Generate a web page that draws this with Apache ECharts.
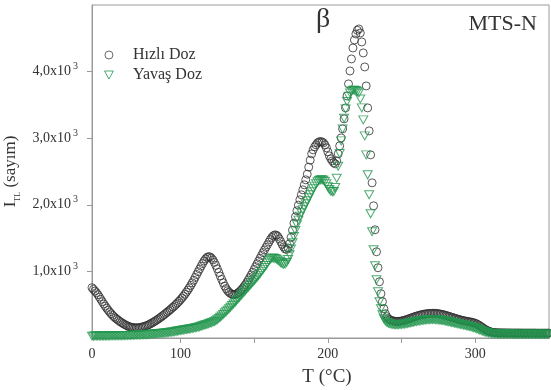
<!DOCTYPE html>
<html><head><meta charset="utf-8">
<script src="https://cdn.jsdelivr.net/npm/echarts@6/dist/echarts.min.js"></script>
<style>html,body{margin:0;padding:0;background:#fff}#c{width:551px;height:390px}</style>
</head><body><div id="c"></div>
<script>
// Temperature (°C), sampled every degree
const temperature = [
40,41,42,43,44,45,46,47,48,49,
50,51,52,53,54,55,56,57,58,59,
60,61,62,63,64,65,66,67,68,69,
70,71,72,73,74,75,76,77,78,79,
80,81,82,83,84,85,86,87,88,89,
90,91,92,93,94,95,96,97,98,99,
100,101,102,103,104,105,106,107,108,109,
110,111,112,113,114,115,116,117,118,119,
120,121,122,123,124,125,126,127,128,129,
130,131,132,133,134,135,136,137,138,139,
140,141,142,143,144,145,146,147,148,149,
150,151,152,153,154,155,156,157,158,159,
160,161,162,163,164,165,166,167,168,169,
170,171,172,173,174,175,176,177,178,179,
180,181,182,183,184,185,186,187,188,189,
190,191,192,193,194,195,196,197,198,199,
200,201,202,203,204,205,206,207,208,209,
210,211,212,213,214,215,216,217,218,219,
220,221,222,223,224,225,226,227,228,229,
230,231,232,233,234,235,236,237,238,239,
240,241,242,243,244,245,246,247,248,249,
250,251,252,253,254,255,256,257,258,259,
260,261,262,263,264,265,266,267,268,269,
270,271,272,273,274,275,276,277,278,279,
280,281,282,283,284,285,286,287,288,289,
290,291,292,293,294,295,296,297,298,299,
300,301,302,303,304,305,306,307,308,309,
310,311,312,313,314,315,316,317,318,319,
320,321,322,323,324,325,326,327,328,329,
330,331,332,333,334,335,336,337,338,339,
340,341,342,343,344,345,346,347,348,349,350];

// Hızlı Doz (counts)
const hizliDoz = [
755,730,705,680,650,615,580,545,510,478,
447,418,390,364,340,318,298,280,263,247,
232,218,205,193,182,172,165,160,156,154,
153,154,156,160,165,171,178,186,195,205,
218,230,243,257,271,286,302,318,335,352,
370,388,406,425,444,464,484,505,527,550,
574,600,628,657,688,720,754,790,828,868,
910,953,995,1037,1078,1118,1155,1187,1210,1222,
1218,1200,1172,1135,1090,1040,985,930,878,830,
780,742,710,686,668,657,652,654,662,676,
694,716,741,769,800,834,870,908,947,987,
1030,1072,1114,1156,1198,1240,1282,1322,1362,1400,
1440,1478,1510,1535,1548,1545,1525,1490,1448,1405,
1368,1338,1330,1352,1415,1510,1620,1725,1820,1910,
1995,2075,2150,2225,2300,2375,2460,2565,2670,2765,
2825,2870,2900,2930,2945,2950,2945,2930,2900,2855,
2795,2735,2690,2660,2630,2615,2660,2765,2885,3005,
3140,3290,3455,3635,3815,4010,4190,4355,4475,4565,
4620,4640,4580,4445,4280,4070,3785,3455,3110,2750,
2330,1985,1625,1295,1055,845,665,545,440,365,
320,290,275,265,258,253,250,249,250,252,
256,261,267,274,281,289,297,305,313,321,
328,335,341,347,352,357,361,364,367,369,
370,371,371,370,368,365,361,357,352,346,
340,333,326,319,312,305,298,291,284,278,
272,266,261,256,252,248,244,240,235,229,
221,211,199,185,170,154,139,125,113,103,
95,89,85,82,80,79,78,78,77,77,
77,76,76,76,76,75,75,75,75,75,
75,75,74,74,74,74,74,74,74,74,
74,74,73,73,73,73,73,73,73,73,73];

// Yavaş Doz (counts)
const yavasDoz = [
28,28,29,29,29,30,30,30,31,31,
31,32,32,33,33,34,34,35,35,36,
36,36,37,38,38,39,40,41,42,43,
44,45,46,47,48,49,50,51,53,55,
57,59,61,63,65,67,69,71,73,75,
77,80,83,86,89,92,96,100,104,108,
112,116,120,124,128,132,136,140,144,148,
153,158,163,170,177,184,191,198,205,213,
221,229,238,248,260,275,292,311,331,352,
374,396,418,440,463,487,511,535,560,585,
610,635,660,685,710,735,760,785,810,835,
860,885,912,940,970,1000,1030,1060,1090,1125,
1160,1185,1198,1200,1195,1185,1170,1150,1130,1115,
1108,1112,1135,1180,1250,1335,1430,1525,1615,1700,
1770,1830,1880,1925,1970,2015,2060,2105,2150,2195,
2240,2280,2315,2345,2365,2375,2375,2368,2350,2315,
2270,2230,2205,2195,2200,2260,2400,2580,2770,2960,
3140,3300,3440,3550,3630,3680,3710,3720,3720,3715,
3700,3680,3590,3455,3275,3035,2750,2450,2150,1865,
1595,1325,1085,875,695,545,440,350,290,255,
235,222,214,208,204,201,200,200,201,203,
205,208,211,215,219,223,228,233,238,243,
248,253,257,261,265,268,271,273,275,276,
277,277,277,276,274,272,269,266,262,258,
254,249,244,239,234,229,224,219,214,209,
204,199,194,189,184,179,174,168,162,155,
147,139,130,121,112,103,95,88,82,77,
73,70,67,65,63,62,61,60,60,60,
60,59,59,59,59,59,58,58,58,58,
58,58,58,58,58,57,57,57,57,57,
57,57,57,57,57,57,57,57,57,57,57];

const xLabelValues = [40, 100, 200, 300];
const xLabelTexts = ['0', '100', '200', '300'];
const xTickValues = [100, 150, 200, 250, 300];
const yLabelValues = [1000, 2000, 3000, 4000];
const yLabelTexts = ['1,0x10', '2,0x10', '3,0x10', '4,0x10'];

const serif = '"Liberation Serif", "Times New Roman", serif';
const textColor = '#333';
const axisColor = '#9a9a9a';
const darkColor = '#2e2e2e';
const greenColor = '#22964e';

const chart = echarts.init(document.getElementById('c'), null, {renderer: 'canvas'});
chart.setOption({
  animation: false,
  backgroundColor: '#fff',
  textStyle: {fontFamily: serif},
  grid: {left: 92, right: 2, top: 5, bottom: 52, show: true, borderColor: axisColor, borderWidth: 1,
         containLabel: false, outerBoundsMode: 'none'},
  title: [
    {text: 'β', left: 311, top: 1, textStyle: {fontFamily: serif, fontSize: 28, fontWeight: 'normal', color: textColor}},
    {text: 'MTS-N', right: 9, top: 8, textStyle: {fontFamily: serif, fontSize: 22, fontWeight: 'normal', color: textColor}}
  ],
  legend: {
    left: 99, top: 42, orient: 'vertical', itemWidth: 36, itemHeight: 8, itemGap: 4,
    textStyle: {fontFamily: serif, fontSize: 16, color: textColor, lineHeight: 15, padding: [0, 0, 0, 1]},
    data: [
      {name: 'Hızlı Doz', icon: 'circle', itemStyle: {color: '#fff', borderColor: '#444', borderWidth: 1}},
      {name: 'Yavaş Doz', icon: 'path://M0,0L10,0L5,9Z', itemStyle: {color: '#fff', borderColor: greenColor, borderWidth: 1}}
    ]
  },
  xAxis: {
    type: 'value', min: 40, max: 350,
    splitLine: {show: false},
    axisLine: {lineStyle: {color: axisColor}},
    axisTick: {customValues: xTickValues, length: 5, lineStyle: {color: axisColor}},
    axisLabel: {
      customValues: xLabelValues, color: textColor, fontSize: 14, margin: 9,
      formatter: v => xLabelTexts[xLabelValues.indexOf(v)]
    },
    name: 'T (°C)', nameLocation: 'middle', nameGap: 30,
    nameTextStyle: {fontFamily: serif, fontSize: 19, color: textColor, padding: [0, 0, 0, 13]}
  },
  yAxis: {
    type: 'value', min: 0, max: 5000,
    splitLine: {show: false},
    axisLine: {show: true, lineStyle: {color: axisColor}},
    axisTick: {show: true, customValues: yLabelValues, length: 5, lineStyle: {color: axisColor}},
    axisLabel: {
      customValues: yLabelValues, margin: 14,
      formatter: v => '{m|' + yLabelTexts[yLabelValues.indexOf(v)] + '}{sup|3}',
      rich: {
        m: {fontFamily: serif, fontSize: 14, color: textColor, lineHeight: 20, verticalAlign: 'middle'},
        sup: {fontFamily: serif, fontSize: 10, color: textColor, lineHeight: 10, verticalAlign: 'top', padding: [0, 0, 0, 2]}
      }
    },
    name: '{m|I}{sub|TL}{m| (sayım)}', nameLocation: 'middle', nameGap: 55,
    nameTextStyle: {
      rich: {
        m: {fontFamily: serif, fontSize: 17, color: textColor, lineHeight: 22, verticalAlign: 'middle'},
        sub: {fontFamily: serif, fontSize: 8, color: textColor, lineHeight: 10, verticalAlign: 'bottom'}
      }
    }
  },
  series: [
    {
      type: 'scatter', name: 'Hızlı Doz', silent: true,
      data: temperature.map((t, i) => [t, hizliDoz[i]]),
      symbol: 'circle', symbolSize: 8,
      itemStyle: {color: 'rgba(0,0,0,0)', borderColor: darkColor, borderWidth: 1}
    },
    {
      type: 'scatter', name: 'Yavaş Doz', silent: true,
      data: temperature.map((t, i) => [t, yavasDoz[i]]),
      symbol: 'triangle', symbolRotate: 180, symbolSize: [9, 8],
      itemStyle: {color: 'rgba(0,0,0,0)', borderColor: greenColor, borderWidth: 1}
    }
  ]
});
</script>
</body></html>
